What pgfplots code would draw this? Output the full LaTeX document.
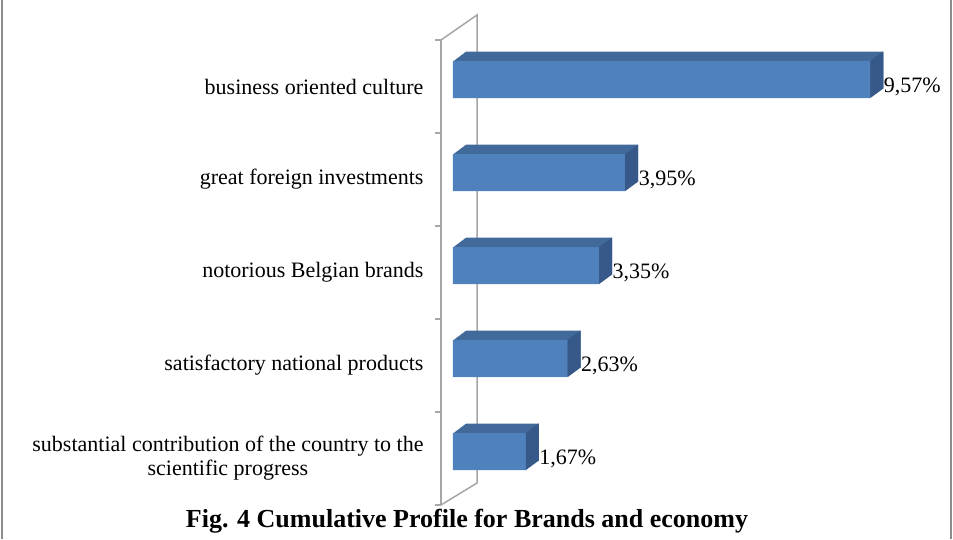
\documentclass[border=0pt]{standalone}
\usepackage{fontspec}
\setmainfont{Liberation Serif}
\usepackage{pgfplots}
\usepackage{pgfplotstable}
\pgfplotsset{compat=1.18}

\definecolor{frontc}{HTML}{4F81BD}
\definecolor{topc}{HTML}{41699A}
\definecolor{sidec}{HTML}{36598A}
\definecolor{wallc}{HTML}{A6A6A6}
\definecolor{framec}{HTML}{8C8C8C}

% right-hand face of a 3D bar, drawn at the end of each bar
\pgfdeclareplotmark{sideface}{%
  \pgfpathmoveto{\pgfqpoint{0pt}{-11.5pt}}%
  \pgfpathlineto{\pgfqpoint{0pt}{25.5pt}}%
  \pgfpathlineto{\pgfqpoint{13pt}{35pt}}%
  \pgfpathlineto{\pgfqpoint{13pt}{-2pt}}%
  \pgfpathclose
  \pgfsetfillcolor{sidec}%
  \pgfusepathqfill}

\pgfplotstableread{
cat val
1 9.57
2 3.95
3 3.35
4 2.63
5 1.67
}\brandtable

\begin{document}
\begin{tikzpicture}
\useasboundingbox (0pt,0pt) rectangle (953pt,539pt);
\draw[framec, line width=2pt] (2pt,0pt) -- (2pt,539pt) (951pt,0pt) -- (951pt,539pt);
% wall behind the bars
\draw[wallc, line width=1.5pt] (441pt,499pt) -- (477pt,524pt) -- (477pt,56pt) -- (441pt,34pt);
\begin{axis}[
  at={(441pt,34pt)}, anchor=south west,
  scale only axis, width=491.6pt, height=465pt,
  xmin=-0.275, xmax=11, ymin=0.5, ymax=5.5, y dir=reverse,
  axis x line=none, axis y line*=left,
  y axis line style={wallc, line width=1.5pt},
  ytick={1,2,3,4,5},
  yticklabels={business oriented culture, great foreign investments, notorious Belgian brands, satisfactory national products, {substantial contribution of the country to the\\scientific progress}},
  major tick length=0pt,
  extra y ticks={0.5,1.5,2.5,3.5,4.5,5.5},
  extra y tick labels={},
  extra y tick style={major tick length=6pt, tick align=outside, tick style={wallc, line width=1.5pt}},
  yticklabel style={font=\fontsize{22}{24}\selectfont, align=center, xshift=-14pt},
  /pgf/number format/assume math mode=true,
  clip=false,
]
\pgfplotsinvokeforeach{1,...,13}{
  \addplot[xbar, bar width=37pt, bar shift=7pt, fill=topc, draw=none,
    xshift=#1pt, yshift={#1*0.73pt}] table[x=val, y=cat] {\brandtable};
}
\addplot[only marks, mark=sideface] table[x=val, y=cat] {\brandtable};
\addplot[xbar, bar width=37pt, bar shift=7pt, fill=frontc, draw=none,
  point meta=x,
  nodes near coords={\pgfmathprintnumber[fixed, fixed zerofill, precision=2, use comma, assume math mode=true]{\pgfplotspointmeta}\%},
  nodes near coords style={anchor=west, xshift=10pt, text=black, font=\fontsize{22}{24}\selectfont}]
  table[x=val, y=cat] {\brandtable};
\end{axis}
\node[anchor=base, font=\bfseries\fontsize{26}{30}\selectfont] at (467pt,12pt) {Fig. 4 Cumulative Profile for Brands and economy};
\end{tikzpicture}
\end{document}
